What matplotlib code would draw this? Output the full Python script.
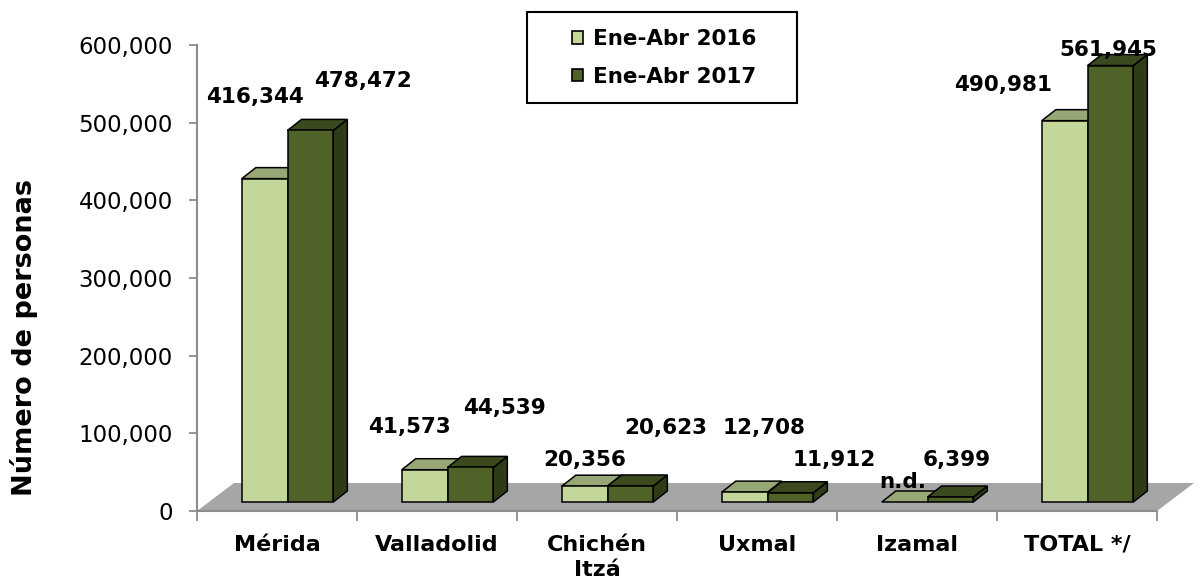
import matplotlib
matplotlib.use("Agg")
import matplotlib.pyplot as plt
from matplotlib.patches import Polygon, Rectangle, Patch
from matplotlib.ticker import FixedLocator, FuncFormatter

# ---------------- data ----------------
categories = ["Mérida", "Valladolid", "Chichén\nItzá", "Uxmal", "Izamal", "TOTAL */"]
series_names = ["Ene-Abr 2016", "Ene-Abr 2017"]
values_2016 = [416344, 41573, 20356, 12708, None, 490981]   # None = n.d.
values_2017 = [478472, 44539, 20623, 11912, 6399, 561945]
y_ticks = [0, 100000, 200000, 300000, 400000, 500000, 600000]

# label anchor positions (x offset within category, y in data units)
lab16_dx = [0.3625, 0.325, 0.425, 0.544, 0.4125, 0.0375]
lab16_y = [532900, 108400, 65800, 106900, 37400, 548400]
lab17_dx = [1.0375, 0.919, 0.93, 0.98, 0.75, 0.694]
lab17_y = [553550, 132900, 106900, 65800, 65800, 593500]

# ---------------- style ----------------
light_front = "#C4D79B"
light_top = "#98A776"
light_side = "#7E8C5E"
dark_front = "#4F6228"
dark_top = "#3B4A1E"
dark_side = "#2F3B17"
floor_col = "#A6A6A6"
axis_col = "#8C8C8C"

W, H = 1198, 584
fig = plt.figure(figsize=(W / 100, H / 100), dpi=100)
ax_l, ax_r, ax_b, ax_t = 197, 1157, 511, 45
ax = fig.add_axes([ax_l / W, (H - ax_b) / H, (ax_r - ax_l) / W, (ax_b - ax_t) / H])
ax.set_xlim(0, len(categories))
ax.set_ylim(0, 600000)

px_x = len(categories) / (ax_r - ax_l)      # data units per pixel (x)
px_y = 600000 / (ax_b - ax_t)              # data units per pixel (y)

# floor
fdx, fdy = 37 * px_x, 28 * px_y
n = len(categories)
ax.add_patch(Polygon([(0, 0), (n, 0), (n + fdx, fdy), (fdx, fdy)], closed=True,
                     facecolor=floor_col, edgecolor="none", zorder=1, clip_on=False))

base = 9 * px_y
bdx, bdy = 14 * px_x, 11 * px_y
bw = 0.286
lw = 1.1


def bar3d(x0, v, cf, ct, cs, z):
    top = base + v
    kw = dict(closed=True, edgecolor="black", linewidth=lw, joinstyle="miter",
              clip_on=False, zorder=z)
    ax.add_patch(Polygon([(x0 + bw, base), (x0 + bw + bdx, base + bdy),
                          (x0 + bw + bdx, top + bdy), (x0 + bw, top)], facecolor=cs, **kw))
    ax.add_patch(Polygon([(x0, top), (x0 + bw, top), (x0 + bw + bdx, top + bdy),
                          (x0 + bdx, top + bdy)], facecolor=ct, **kw))
    if v > 0:
        ax.add_patch(Polygon([(x0, base), (x0 + bw, base), (x0 + bw, top), (x0, top)],
                             facecolor=cf, **kw))


for i in range(n):
    v16 = values_2016[i]
    bar3d(i + 0.28, 0 if v16 is None else v16, light_front, light_top, light_side, 3)
    bar3d(i + 0.28 + bw, values_2017[i], dark_front, dark_top, dark_side, 4)

    t16 = "n.d." if v16 is None else f"{v16:,}"
    ax.text(i + lab16_dx[i], lab16_y[i], t16, ha="center", va="center",
            fontsize=15.5, fontweight="bold", zorder=6, clip_on=False)
    ax.text(i + lab17_dx[i], lab17_y[i], f"{values_2017[i]:,}", ha="center", va="center",
            fontsize=15.5, fontweight="bold", zorder=6, clip_on=False)

# axes styling
for s in ["top", "right"]:
    ax.spines[s].set_visible(False)
ax.spines["left"].set_color(axis_col)
ax.spines["bottom"].set_color(axis_col)
ax.spines["left"].set_linewidth(1.5)
ax.spines["bottom"].set_linewidth(1.5)
ax.spines["left"].set_zorder(2)
ax.set_facecolor("none")

ax.yaxis.set_major_locator(FixedLocator(y_ticks))
ax.yaxis.set_major_formatter(FuncFormatter(lambda v, p: f"{int(v):,}"))
ax.tick_params(axis="y", which="major", direction="out", length=6, width=1.3,
               color=axis_col, labelsize=16.5, pad=11.5)

ax.xaxis.set_major_locator(FixedLocator(list(range(n + 1))))
ax.xaxis.set_minor_locator(FixedLocator([i + 0.5 for i in range(n)]))
ax.set_xticklabels([], minor=False)
ax.set_xticklabels(categories, minor=True, fontsize=16, fontweight="bold",
                   linespacing=1.35, va="top")
ax.tick_params(axis="x", which="major", direction="out", length=7, width=1.3,
               color=axis_col)
ax.tick_params(axis="x", which="minor", length=0, pad=17)

ax.set_ylabel("Número de personas", fontsize=19.5, fontweight="bold")
ax.yaxis.set_label_coords((38 - ax_l) / (ax_r - ax_l), (ax_b - 337) / (ax_b - ax_t))

# legend
fig.patches.append(Rectangle((527 / W, 1 - 103 / H), 270 / W, 91 / H, transform=fig.transFigure,
                             fill=False, edgecolor="black", linewidth=1.5, zorder=10))
handles = [Patch(facecolor=light_front, edgecolor="black", linewidth=1.2),
           Patch(facecolor=dark_front, edgecolor="black", linewidth=1.2)]
fig.legend(handles, series_names, loc="center", bbox_to_anchor=(664 / W, 1 - 58 / H),
           frameon=False, prop={"size": 15.5, "weight": "bold"},
           handlelength=0.55, handleheight=0.55, handletextpad=0.45, labelspacing=0.8,
           borderpad=0)

fig.savefig("out.png", dpi=100)
